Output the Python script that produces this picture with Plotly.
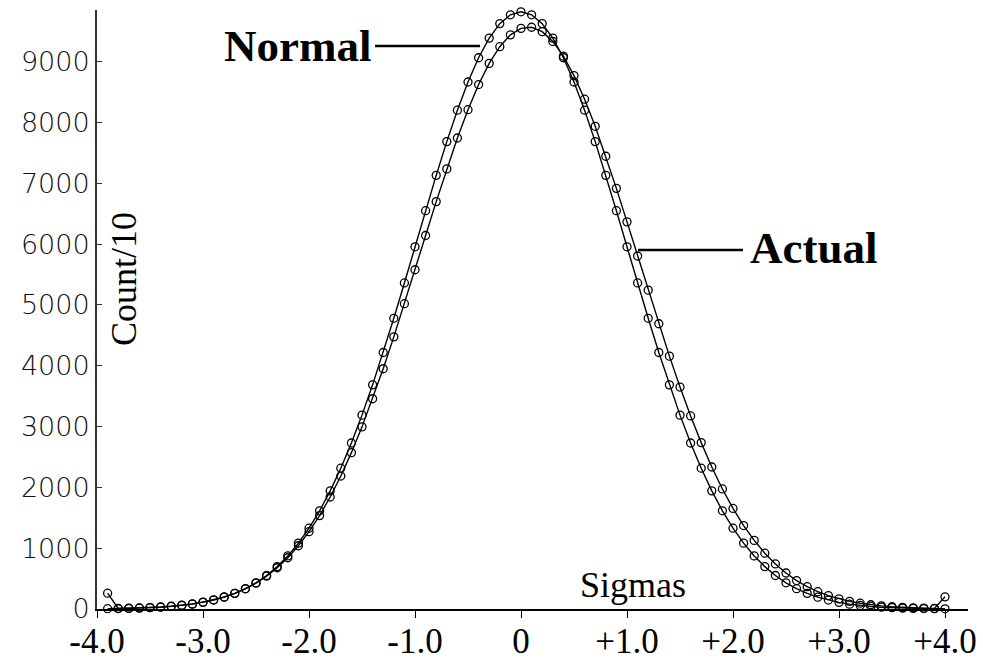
import plotly.graph_objects as go

# Sigma positions (bins of 0.1 sigma)
sigmas = [round(-3.9 + 0.1 * i, 1) for i in range(80)]

# Count/10 for the theoretical normal curve
normal_counts = [
    5, 7, 10, 15, 22, 30, 42, 59, 80, 109,
    147, 195, 257, 334, 431, 551, 697, 873, 1083, 1329,
    1615, 1943, 2315, 2730, 3188, 3686, 4218, 4780, 5362, 5956,
    6550, 7131, 7686, 8202, 8666, 9065, 9388, 9626, 9771, 9820,
    9771, 9626, 9388, 9065, 8666, 8202, 7686, 7131, 6550, 5956,
    5362, 4780, 4218, 3686, 3188, 2730, 2315, 1943, 1615, 1329,
    1083, 873, 697, 551, 431, 334, 257, 195, 147, 109,
    80, 59, 42, 30, 22, 15, 10, 7, 5, 3,
]

actual_counts = [
    260, 8, 12, 17, 24, 33, 45, 62, 84, 113,
    150, 197, 257, 332, 425, 540, 678, 843, 1040, 1271,
    1536, 1842, 2186, 2571, 2995, 3457, 3951, 4475, 5020, 5579,
    6142, 6699, 7237, 7745, 8211, 8624, 8972, 9247, 9441, 9548,
    9566, 9494, 9334, 9091, 8771, 8383, 7937, 7445, 6917, 6366,
    5805, 5243, 4691, 4158, 3650, 3175, 2736, 2335, 1974, 1654,
    1372, 1128, 918, 741, 592, 468, 367, 285, 220, 167,
    126, 95, 70, 51, 37, 27, 19, 14, 10, 200,
]

x_tick_vals = [-4, -3, -2, -1, 0, 1, 2, 3, 4]
x_tick_text = ["-4.0", "-3.0", "-2.0", "-1.0", "0", "+1.0", "+2.0", "+3.0", "+4.0"]
y_tick_vals = [0, 1000, 2000, 3000, 4000, 5000, 6000, 7000, 8000, 9000]

fig = go.Figure()
for name, ys in [("Normal", normal_counts), ("Actual", actual_counts)]:
    fig.add_trace(go.Scatter(
        x=sigmas, y=ys, name=name, mode="lines+markers",
        line=dict(color="black", width=1.4),
        marker=dict(symbol="circle-open", size=8, color="black",
                    line=dict(width=1.3, color="black")),
        cliponaxis=False, showlegend=False,
    ))

serif = "Liberation Serif, Times New Roman, serif"

fig.update_layout(
    width=983, height=663,
    margin=dict(l=97, r=15, t=10, b=54, autoexpand=False),
    paper_bgcolor="white", plot_bgcolor="white",
    xaxis=dict(
        range=[-4, 4.217], tickvals=x_tick_vals, ticktext=x_tick_text,
        automargin=False, ticklabelstandoff=-7,
        showgrid=False, zeroline=False, showline=True, linecolor="black",
        linewidth=1.5, ticks="outside", ticklen=7, tickcolor="black",
        tickfont=dict(family=serif, size=35, color="black"),
    ),
    yaxis=dict(
        range=[0, 9850], tickvals=y_tick_vals, automargin=False,
        showgrid=False, zeroline=False, showline=True, linecolor="#333",
        linewidth=2, ticks="inside", ticklen=5, tickcolor="#333",
        tickfont=dict(family="DejaVu Sans", size=27, color="#111", weight=300),
    ),
    annotations=[
        dict(x=1.057, y=395, xref="x", yref="y", text="Sigmas", showarrow=False,
             font=dict(family=serif, size=36, color="black")),
        dict(x=-3.745, y=5428, xref="x", yref="y", text="Count/10", showarrow=False,
             textangle=-90, font=dict(family=serif, size=36, color="black")),
        dict(x=-2.104, y=9260, xref="x", yref="y", text="<b>Normal</b>", showarrow=False,
             font=dict(family=serif, size=45, color="black")),
        dict(x=2.764, y=5938, xref="x", yref="y", text="<b>Actual</b>", showarrow=False,
             font=dict(family=serif, size=45, color="black")),
    ],
    shapes=[
        dict(type="line", xref="x", yref="y", x0=-1.377, x1=-0.387, y0=9260, y1=9260,
             line=dict(color="black", width=2.5)),
        dict(type="line", xref="x", yref="y", x0=1.104, x1=2.094, y0=5905, y1=5905,
             line=dict(color="black", width=2.5)),
    ],
)

fig.write_html("out.html")
